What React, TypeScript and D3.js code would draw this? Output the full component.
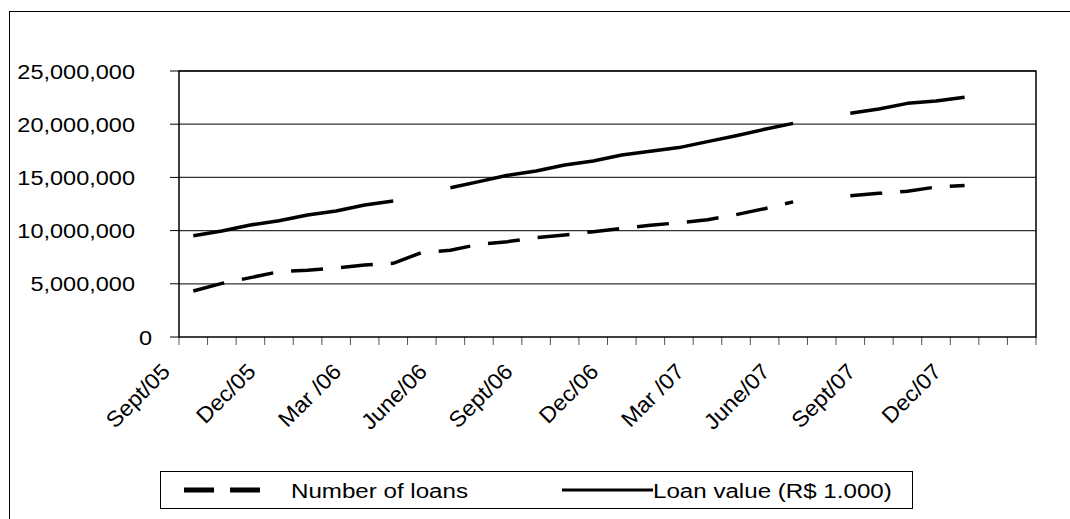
import React from 'react';
import * as d3 from 'd3';

// months shown on the category axis (Sept/05 .. Feb/08)
const months = [
  'Sept/05', 'Oct/05', 'Nov/05', 'Dec/05', 'Jan/06', 'Feb/06', 'Mar/06', 'Apr/06', 'May/06', 'June/06',
  'July/06', 'Aug/06', 'Sept/06', 'Oct/06', 'Nov/06', 'Dec/06', 'Jan/07', 'Feb/07', 'Mar/07', 'Apr/07',
  'May/07', 'June/07', 'July/07', 'Aug/07', 'Sept/07', 'Oct/07', 'Nov/07', 'Dec/07', 'Jan/08', 'Feb/08',
];

// only every third month gets a label
const tickLabels: Record<string, string> = {
  'Sept/05': 'Sept/05', 'Dec/05': 'Dec/05', 'Mar/06': 'Mar /06', 'June/06': 'June/06',
  'Sept/06': 'Sept/06', 'Dec/06': 'Dec/06', 'Mar/07': 'Mar /07', 'June/07': 'June/07',
  'Sept/07': 'Sept/07', 'Dec/07': 'Dec/07',
};

// values in millions, null = no data for that month
const numberOfLoans = [
  4.32, 5.04, 5.58, 6.14, 6.27, 6.48, 6.77, 6.92, 7.95, 8.15,
  8.71, 8.96, 9.33, 9.59, 9.9, 10.2, 10.5, 10.74, 11.02, 11.5,
  12.06, 12.7, null, 13.28, 13.5, 13.69, 14.1, 14.25,
];

const loanValue = [
  9.52, 9.96, 10.53, 10.93, 11.47, 11.84, 12.41, 12.78, null, 14.03,
  14.6, 15.2, 15.6, 16.17, 16.54, 17.1, 17.45, 17.8, 18.36, 18.92,
  19.52, 20.08, null, 21.02, 21.43, 21.96, 22.18, 22.53,
];

const yTicks = [0, 5e6, 10e6, 15e6, 20e6, 25e6];

const FONT = '"Liberation Sans", Arial, sans-serif';
const STRETCH = 1.12;

const App: React.FC = () => {
  const width = 1070;
  const height = 519;
  const plot = { left: 179, right: 1036, top: 71, bottom: 337 };

  const x = d3.scaleBand<string>().domain(months).range([plot.left, plot.right]).padding(0);
  const y = d3.scaleLinear().domain([0, 25e6]).range([plot.bottom, plot.top]);
  const cx = (i: number) => (x(months[i]) || 0) + x.bandwidth() / 2;

  const line = d3.line<number | null>()
    .defined(d => d != null)
    .x((_d, i) => cx(i))
    .y(d => y((d as number) * 1e6));

  const fmt = d3.format(',');
  const boundaries = d3.range(months.length + 1).map(i => plot.left + i * x.bandwidth());

  return (
    <div style={{ position: 'fixed', left: 0, top: 0 }}>
      <svg width={width} height={height} style={{ display: 'block', background: '#fff' }}>
        {/* outer chart frame (runs off the picture) */}
        <rect x={9.5} y={11.5} width={1200} height={600} fill="none" stroke="#000" strokeWidth={1} />

        {/* gridlines */}
        {yTicks.filter(t => t > 0).map(t => (
          <line key={t} x1={plot.left} x2={plot.right} y1={y(t)} y2={y(t)} stroke="#333" strokeWidth={1.2} />
        ))}

        {/* y ticks + labels */}
        {yTicks.map(t => (
          <g key={'y' + t}>
            <line x1={plot.left - 9} x2={plot.left} y1={y(t)} y2={y(t)} stroke="#000" strokeWidth={1} />
            <text
              transform={`translate(${t === 0 ? 152 : 135},${y(t)}) scale(${STRETCH},1)`}
              dy="0.36em"
              textAnchor="end"
              fontFamily={FONT}
              fontSize={21}
              fill="#000"
            >
              {fmt(t)}
            </text>
          </g>
        ))}

        {/* category ticks */}
        {boundaries.map((bx, i) => (
          <line key={'t' + i} x1={bx} x2={bx} y1={plot.bottom} y2={plot.bottom + 8} stroke="#555" strokeWidth={1} />
        ))}

        {/* x labels */}
        {months.map((m, i) => tickLabels[m] ? (
          <text
            key={'l' + m}
            transform={`translate(${cx(i) - 22},373) rotate(-45) scale(1.05,1)`}
            textAnchor="end"
            fontFamily={FONT}
            fontSize={22}
            fill="#000"
          >
            {tickLabels[m]}
          </text>
        ) : null)}

        {/* plot border */}
        <rect x={plot.left} y={plot.top} width={plot.right - plot.left} height={plot.bottom - plot.top}
          fill="none" stroke="#000" strokeWidth={1.5} />

        {/* series */}
        <path d={line(loanValue) || ''} fill="none" stroke="#000" strokeWidth={3.5} strokeLinejoin="round" />
        <path d={line(numberOfLoans) || ''} fill="none" stroke="#000" strokeWidth={3.5} strokeDasharray="32,18" />

        {/* legend */}
        <rect x={160.5} y={471.5} width={752} height={37} fill="#fff" stroke="#000" strokeWidth={1} />
        <line x1={184} x2={264} y1={490} y2={490} stroke="#000" strokeWidth={5} strokeDasharray="30,16" />
        <text transform={`translate(291,490) scale(1.15,1)`} dy="0.36em" fontFamily={FONT} fontSize={21} fill="#000">
          Number of loans
        </text>
        <line x1={562} x2={653} y1={490} y2={490} stroke="#000" strokeWidth={3} />
        <text transform={`translate(653,490) scale(1.15,1)`} dy="0.36em" fontFamily={FONT} fontSize={21} fill="#000">
          Loan value (R$ 1.000)
        </text>
      </svg>
    </div>
  );
};

export default App;
